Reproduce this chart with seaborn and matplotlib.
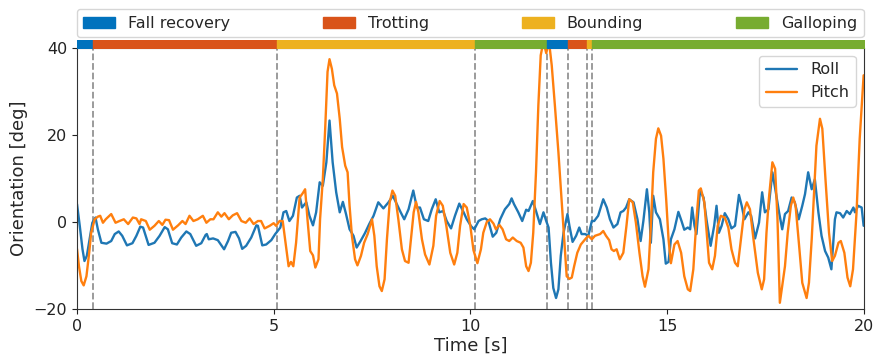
import numpy as np
import pandas as pd
import matplotlib
matplotlib.use("Agg")
import matplotlib.pyplot as plt
from matplotlib.patches import Patch
import seaborn as sns

# ---- data ----
gait_names = ["Fall recovery", "Trotting", "Bounding", "Galloping"]
gait_colors = ["#0072BD", "#D95319", "#EDB120", "#77AC30"]

# phase boundaries [s] and the gait of each phase
phase_edges = [0.0, 0.41, 5.09, 10.12, 11.94, 12.48, 12.96, 13.10, 20.0]
phase_gaits = [0, 1, 2, 3, 0, 1, 2, 3]

roll_t = [0.00, 0.07, 0.14, 0.19, 0.25, 0.32, 0.39, 0.47, 0.53, 0.62, 0.75, 0.87, 0.96, 1.06, 1.15,
          1.27, 1.41, 1.51, 1.61, 1.68, 1.82, 1.97, 2.10, 2.23, 2.31, 2.42, 2.54, 2.65, 2.78, 2.88,
          3.03, 3.16, 3.27, 3.30, 3.35, 3.46, 3.58, 3.67, 3.74, 3.84, 3.92, 4.03, 4.12, 4.20, 4.30,
          4.43, 4.56, 4.60, 4.71, 4.81, 4.94, 5.04, 5.17, 5.25, 5.32, 5.40, 5.49, 5.59, 5.66, 5.72,
          5.83, 5.91, 6.00, 6.08, 6.17, 6.25, 6.34, 6.42, 6.50, 6.59, 6.68, 6.76, 6.84, 6.93, 7.03,
          7.11, 7.21, 7.32, 7.43, 7.54, 7.66, 7.79, 7.92, 8.03, 8.13, 8.23, 8.32, 8.43, 8.55, 8.64,
          8.72, 8.82, 8.93, 9.02, 9.12, 9.21, 9.31, 9.40, 9.51, 9.61, 9.72, 9.83, 9.91, 10.02, 10.10,
          10.21, 10.29, 10.38, 10.46, 10.57, 10.66, 10.76, 10.88, 10.99, 11.05, 11.11, 11.22, 11.32,
          11.42, 11.48, 11.59, 11.67, 11.77, 11.86, 11.93, 11.99, 12.05, 12.11, 12.18, 12.24, 12.30,
          12.37, 12.47, 12.52, 12.60, 12.69, 12.77, 12.83, 12.92, 13.00, 13.09, 13.15, 13.25, 13.38,
          13.47, 13.55, 13.64, 13.74, 13.82, 13.89, 13.96, 14.04, 14.15, 14.25, 14.33, 14.40, 14.49,
          14.55, 14.59, 14.65, 14.72, 14.82, 14.91, 14.97, 15.04, 15.10, 15.19, 15.29, 15.37, 15.44,
          15.53, 15.59, 15.64, 15.70, 15.75, 15.84, 15.93, 16.01, 16.11, 16.20, 16.26, 16.32, 16.39,
          16.47, 16.56, 16.64, 16.73, 16.83, 16.90, 16.97, 17.07, 17.14, 17.24, 17.34, 17.42, 17.49,
          17.58, 17.68, 17.76, 17.85, 17.93, 18.00, 18.08, 18.17, 18.25, 18.35, 18.44, 18.51, 18.59,
          18.68, 18.76, 18.85, 18.93, 19.02, 19.10, 19.18, 19.27, 19.31, 19.40, 19.48, 19.57, 19.65,
          19.74, 19.78, 19.86, 19.95, 20.00]
roll_deg = [4.1, -0.9, -6.3, -9.0, -7.8, -4.0, -0.2, 1.0, -1.7, -4.8, -5.0, -4.4, -2.8, -2.2, -3.2,
            -5.4, -4.9, -3.2, -1.1, -1.3, -5.3, -4.8, -3.2, -1.2, -1.7, -4.9, -5.2, -3.6, -2.2, -2.8,
            -5.5, -4.9, -3.0, -2.8, -4.0, -3.8, -4.2, -5.4, -6.3, -4.4, -2.5, -2.3, -3.8, -6.2, -5.5,
            -3.6, -0.8, -0.9, -5.4, -5.2, -4.2, -2.8, -1.3, 2.2, 2.5, 0.2, 1.4, 5.6, 6.0, 3.3,
            4.5, 1.4, -0.8, 2.2, 9.1, 8.3, 13.7, 23.3, 13.7, 6.8, 2.2, 4.6, 1.8, -1.7, -3.2,
            -5.9, -4.4, -2.6, -0.5, 1.4, 4.5, 3.1, 4.5, 6.0, 4.1, 2.2, 0.6, 2.9, 7.2, 3.3,
            3.3, 0.6, 0.2, 2.9, 5.2, 2.2, 2.5, 0.2, -1.5, 1.4, 4.2, 2.2, 0.6, -1.0, -1.7,
            0.2, 0.6, 0.8, 0.2, -3.4, -2.5, 0.6, 2.9, 4.1, 5.4, 4.1, 2.2, 0.2,
            2.8, 2.5, 4.8, 2.5, -0.5, 2.2, 0.2, -1.3, -9.4, -15.2, -17.5, -15.5, -7.8,
            -2.5, 1.8, -0.9, -4.6, -3.2, -1.3, -2.8, -2.8, -3.2, 0.2, 0.2, 1.4, 5.2,
            3.3, 0.6, -1.3, -0.5, 2.2, 2.5, 3.3, 5.2, 4.5, 0.6, -4.4, 0.2, 7.5,
            2.2, -4.8, 6.0, 2.2, 0.6, -4.0, -9.6, -9.2, -4.0, -1.7, 2.3, 0.2, -1.8,
            -1.3, -1.7, 3.3, -0.9, -2.8, 7.2, 5.6, 0.2, -5.5, -0.9, 3.7, -2.5, -0.9,
            2.0, 0.6, -1.5, -0.9, 6.2, 3.7, 0.6, 2.2, 1.4, -3.8, -0.2, 6.8, 2.2,
            2.9, 11.4, 7.2, 2.2, -1.7, 1.8, 2.5, 5.6, 4.5, 0.6, 3.7, 6.4, 11.4,
            7.5, 9.8, 2.2, -3.2, -6.7, -8.2, -10.9, 0.6, 2.2, 2.0, 1.0, 2.5, 1.8,
            3.3, 2.2, 3.7, 3.3, -0.9]

pitch_t = [0.00, 0.05, 0.11, 0.17, 0.24, 0.31, 0.36, 0.45, 0.53, 0.59, 0.66, 0.73, 0.87, 0.98, 1.08,
           1.19, 1.30, 1.42, 1.51, 1.59, 1.63, 1.75, 1.85, 1.97, 2.08, 2.17, 2.25, 2.34, 2.44, 2.57,
           2.68, 2.76, 2.86, 2.96, 3.07, 3.20, 3.29, 3.39, 3.47, 3.58, 3.67, 3.75, 3.86, 3.96, 4.07,
           4.18, 4.29, 4.39, 4.49, 4.60, 4.68, 4.77, 4.90, 5.00, 5.06, 5.15, 5.23, 5.29, 5.38, 5.44,
           5.50, 5.57, 5.66, 5.74, 5.80, 5.86, 5.93, 6.00, 6.06, 6.14, 6.18, 6.25, 6.31, 6.37, 6.42,
           6.48, 6.54, 6.61, 6.68, 6.74, 6.82, 6.88, 6.93, 6.99, 7.07, 7.13, 7.22, 7.30, 7.39, 7.45,
           7.50, 7.56, 7.62, 7.69, 7.75, 7.82, 7.88, 7.95, 8.02, 8.09, 8.17, 8.26, 8.34, 8.43, 8.49,
           8.56, 8.62, 8.68, 8.77, 8.85, 8.96, 9.06, 9.13, 9.22, 9.30, 9.39, 9.49, 9.59, 9.67, 9.74,
           9.83, 9.91, 10.00, 10.08, 10.18, 10.27, 10.33, 10.42, 10.50, 10.59, 10.65, 10.74, 10.82,
           10.91, 10.99, 11.08, 11.18, 11.28, 11.35, 11.42, 11.48, 11.54, 11.60, 11.67, 11.73, 11.79,
           11.86, 11.93, 12.00, 12.07, 12.15, 12.24, 12.32, 12.39, 12.45, 12.52, 12.58, 12.64, 12.72,
           12.81, 12.92, 13.00, 13.09, 13.17, 13.30, 13.38, 13.45, 13.53, 13.59, 13.65, 13.72, 13.80,
           13.89, 13.97, 14.04, 14.13, 14.21, 14.30, 14.38, 14.44, 14.53, 14.59, 14.65, 14.72, 14.78,
           14.85, 14.91, 14.98, 15.04, 15.10, 15.19, 15.27, 15.36, 15.44, 15.53, 15.59, 15.67, 15.75,
           15.81, 15.86, 15.95, 16.01, 16.07, 16.15, 16.22, 16.29, 16.37, 16.47, 16.56, 16.64, 16.73,
           16.80, 16.88, 16.97, 17.03, 17.11, 17.20, 17.31, 17.41, 17.47, 17.53, 17.59, 17.68, 17.75,
           17.81, 17.87, 17.93, 18.00, 18.07, 18.15, 18.21, 18.27, 18.36, 18.44, 18.55, 18.61, 18.68,
           18.75, 18.80, 18.89, 18.95, 19.03, 19.12, 19.20, 19.27, 19.36, 19.42, 19.51, 19.59, 19.66,
           19.73, 19.82, 19.90, 20.00]
pitch_deg = [-6.2, -10.2, -13.6, -14.6, -12.5, -7.1, -2.5, 0.6, 1.2, 1.4, -0.2, 0.6, 1.8, -0.2, 0.2,
             0.6, -0.5, 1.0, 0.8, -0.5, 0.6, 0.2, -1.8, -0.9, 0.2, -0.7, 0.5, 0.4, -1.8, -0.8,
             0.2, -0.5, 1.4, 0.2, 0.6, 1.4, -0.2, 0.6, 0.6, 2.2, 1.2, 2.0, 0.6, 1.5, 2.0,
             0.2, -0.2, 0.8, -0.5, 0.2, 0.2, -1.5, -0.9, -0.3, -0.9, 0.2, 0.2, -4.0, -10.2, -9.2,
             -10.2, -4.8, 5.6, 6.6, 7.5, 0.6, -6.7, -7.7, -10.5, -8.6, 0.6, 9.8, 21.4, 34.5, 37.4,
             35.2, 31.4, 29.5, 23.7, 17.2, 12.9, 11.4, 3.7, -3.2, -8.6, -10.0, -7.8, -4.8, -2.8, -0.9,
             0.6, -3.2, -10.2, -14.8, -15.9, -13.2, -4.0, 4.5, 7.2, 6.0, 0.6, -6.3, -9.0, -9.4, -4.0,
             2.2, 4.6, 2.2, -4.0, -7.5, -9.8, -5.5, 1.4, 4.8, 3.7, -0.9, -7.1, -9.8, -7.1, -0.9,
             4.1, 3.3, -0.9, -6.5, -9.5, -6.3, -2.5, 0.0, 0.6, -0.4, -1.7, -0.7, -1.7,
             -4.0, -4.4, -3.6, -4.4, -4.8, -5.9, -10.2, -11.3, -9.4, -2.5, 11.4, 26.8, 38.3,
             41.5, 38.8, 41.5, 36.0, 26.8, 16.0, 5.2, -4.0, -12.5, -13.1, -12.8, -10.2, -7.1,
             -5.2, -4.0, -3.2, -4.0, -3.2, -2.8, -2.1, -3.2, -4.2, -6.3, -6.7, -6.3, -8.6,
             -7.1, -0.9, 5.2, 4.5, -0.2, -7.1, -12.5, -14.9, -10.9, -0.9, 11.4, 19.1, 21.5,
             19.8, 14.5, 5.2, -4.0, -9.5, -5.2, -4.4, -7.1, -12.5, -15.5, -15.9, -10.9, 0.6,
             7.2, 7.7, 4.5, -2.5, -9.4, -10.9, -7.8, -0.9, 1.4, 1.0, -1.3, -6.3, -9.4,
             -10.2, -4.0, 2.9, 4.5, 2.9, -4.0, -11.7, -15.5, -13.2, -2.5, 5.2, 13.7, 12.2,
             0.6, -18.6, -14.8, -10.2, -2.5, 3.7, 5.6, 3.7, -5.5, -14.0, -17.5, -14.0, -4.0,
             8.3, 17.5, 23.7, 21.4, 9.8, -2.5, -9.0, -7.8, -4.8, -4.4, -7.1, -12.8, -14.8,
             -10.9, 2.2, 19.1, 33.7]

roll_df = pd.DataFrame({"t": roll_t, "deg": roll_deg})
pitch_df = pd.DataFrame({"t": pitch_t, "deg": pitch_deg})

sns.set_style("ticks")
plt.rcParams["font.family"] = ["DejaVu Sans"]

fig = plt.figure(figsize=(8.75, 3.6), dpi=100)
ax = fig.add_axes([0.088, 0.142, 0.899, 0.725])

# the two orientation traces
sns.lineplot(data=roll_df, x="t", y="deg", ax=ax, color="#1f77b4", lw=1.7, label="Roll")
sns.lineplot(data=pitch_df, x="t", y="deg", ax=ax, color="#ff7f0e", lw=1.7, label="Pitch")

# phase boundaries
for edge in phase_edges[1:-1]:
    ax.axvline(edge, color="gray", ls="--", lw=1.3, alpha=0.85, zorder=0)

ax.set_xlim(0, 20)
ax.set_ylim(-20, 40)
ax.set_xticks([0, 5, 10, 15, 20])
ax.set_yticks([-20, 0, 20, 40])
ax.tick_params(labelsize=11.5, colors="#222222")
ax.set_xlabel("Time [s]", fontsize=13, labelpad=2)
ax.set_ylabel("Orientation [deg]", fontsize=13, labelpad=4)
for sp in ax.spines.values():
    sp.set_color("#333333")

# gait strip on top of the axes
strip = fig.add_axes([0.088, 0.867, 0.899, 8 / 360])
for i, g in enumerate(phase_gaits):
    strip.broken_barh([(phase_edges[i], phase_edges[i + 1] - phase_edges[i])], (0, 1),
                      color=gait_colors[g])
strip.set_xlim(0, 20)
strip.set_ylim(0, 1)
strip.axis("off")

ax.legend(loc="upper right", fontsize=11.5, frameon=True)

# gait legend across the top
handles = [Patch(color=c, label=n) for c, n in zip(gait_colors, gait_names)]
fig.legend(handles=handles, ncol=4, mode="expand", loc="lower left",
           bbox_to_anchor=(0.088, 0.897, 0.899, 0.078), borderaxespad=0,
           fontsize=11.5, frameon=True)

fig.savefig("out.png", dpi=100)
